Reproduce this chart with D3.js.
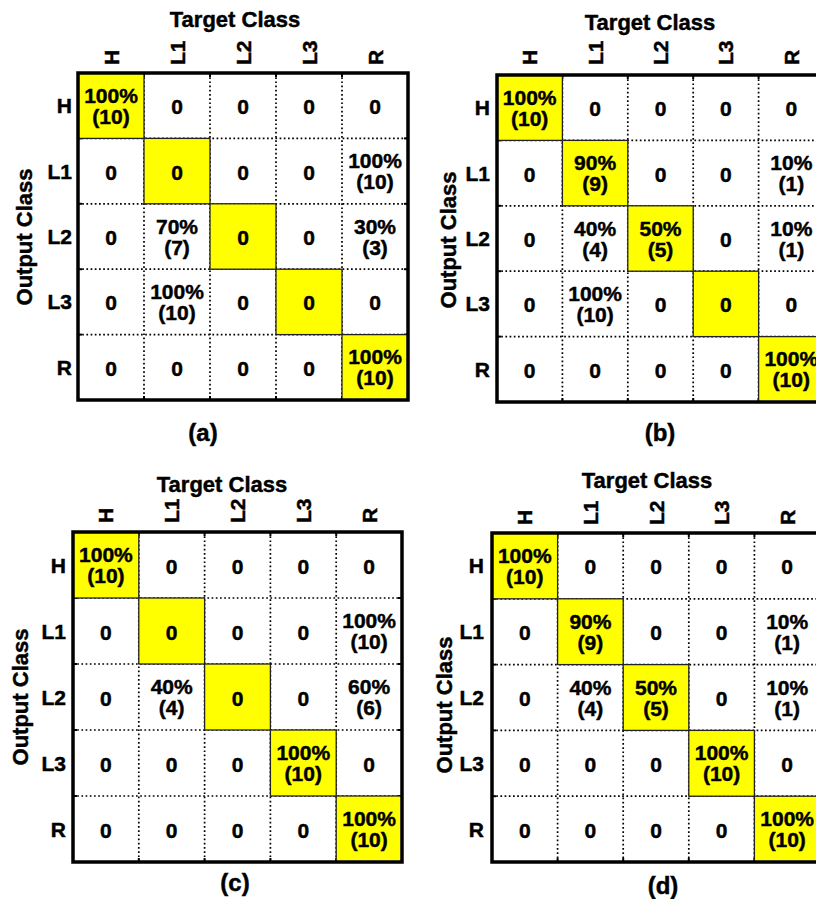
<!DOCTYPE html>
<html><head><meta charset="utf-8">
<script src="https://cdn.jsdelivr.net/npm/d3@7"></script>
<style>
html,body{margin:0;padding:0;background:#fff;}
svg{display:block;}
text{font-family:Arial,"Liberation Sans",sans-serif;font-weight:bold;fill:#000;stroke:#000;stroke-width:0.45px;}
</style></head>
<body>
<script>
// ---- data ----
const classes = ["H", "L1", "L2", "L3", "R"];
const panelLabels = ["(a)", "(b)", "(c)", "(d)"];
const xTitle = "Target Class";
const yTitle = "Output Class";
// rows = output class, columns = target class (counts)
const countsA = [[10,0,0,0,0],[0,0,0,0,10],[0,7,0,0,3],[0,10,0,0,0],[0,0,0,0,10]];
const countsB = [[10,0,0,0,0],[0,9,0,0,1],[0,4,5,0,1],[0,10,0,0,0],[0,0,0,0,10]];
const countsC = [[10,0,0,0,0],[0,0,0,0,10],[0,4,0,0,6],[0,0,0,10,0],[0,0,0,0,10]];
const countsD = [[10,0,0,0,0],[0,9,0,0,1],[0,4,5,0,1],[0,0,0,10,0],[0,0,0,0,10]];

// ---- layout ----
const W = 816, H = 899;
const svg = d3.select("body").append("svg").attr("width", W).attr("height", H);

const panels = [
  {counts: countsA, label: panelLabels[0], x0: 78, y0: 73, x1: 408, y1: 400, titleX: 235, titleY: 27, tickY: 65, rowX: 72, yTitleX: 32, yTitleY: 237, labX: 203, labY: 441},
  {counts: countsB, label: panelLabels[1], x0: 497, y0: 75, x1: 824, y1: 402, titleX: 650, titleY: 30, tickY: 65, rowX: 490, yTitleX: 456, yTitleY: 240, labX: 660, labY: 441},
  {counts: countsC, label: panelLabels[2], x0: 73, y0: 532, x1: 402, y1: 862, titleX: 222, titleY: 492, tickY: 523, rowX: 66, yTitleX: 28, yTitleY: 697, labX: 235, labY: 891},
  {counts: countsD, label: panelLabels[3], x0: 492, y0: 533, x1: 820, y1: 862, titleX: 647, titleY: 488, tickY: 525, rowX: 484, yTitleX: 452, yTitleY: 705, labX: 663, labY: 894}
];

panels.forEach(p => {
  const g = svg.append("g");
  const x = d3.scaleBand().domain(classes).range([p.x0, p.x1]);
  const y = d3.scaleBand().domain(classes).range([p.y0, p.y1]);
  const cells = [];
  p.counts.forEach((row, ri) => {
    const total = d3.sum(row);
    row.forEach((v, ci) => cells.push({r: classes[ri], c: classes[ci], v, pct: total ? Math.round(v / total * 100) : 0, diag: ri === ci}));
  });

  g.append("rect").attr("x", p.x0).attr("y", p.y0).attr("width", p.x1 - p.x0).attr("height", p.y1 - p.y0).attr("fill", "#fff");

  // dotted grid
  const inner = classes.slice(1);
  g.selectAll(".vg").data(inner).join("line")
    .attr("x1", d => x(d)).attr("x2", d => x(d)).attr("y1", p.y0).attr("y2", p.y1)
    .attr("stroke", "#000").attr("stroke-width", 1.7).attr("stroke-dasharray", "1.7 2.5");
  g.selectAll(".hg").data(inner).join("line")
    .attr("y1", d => y(d)).attr("y2", d => y(d)).attr("x1", p.x0).attr("x2", p.x1)
    .attr("stroke", "#000").attr("stroke-width", 1.7).attr("stroke-dasharray", "1.7 2.5");
  inner.forEach(d => {
    [[x(d), p.y0, x(d), p.y0 + 4], [x(d), p.y1, x(d), p.y1 - 4], [p.x0, y(d), p.x0 + 4, y(d)], [p.x1, y(d), p.x1 - 4, y(d)]].forEach(s =>
      g.append("line").attr("x1", s[0]).attr("y1", s[1]).attr("x2", s[2]).attr("y2", s[3]).attr("stroke", "#000").attr("stroke-width", 2));
  });

  // diagonal yellow cells
  g.selectAll(".dc").data(cells.filter(d => d.diag)).join("rect")
    .attr("x", d => x(d.c)).attr("y", d => y(d.r))
    .attr("width", x.bandwidth()).attr("height", y.bandwidth())
    .attr("fill", "#ffff00").attr("stroke", "#222").attr("stroke-width", 1.3);

  // cell text
  const fs = 21;
  cells.forEach(d => {
    const cx = x(d.c) + x.bandwidth() / 2, cy = y(d.r) + y.bandwidth() / 2;
    if (d.v === 0) {
      g.append("text").attr("x", cx).attr("y", cy + 8.5).attr("text-anchor", "middle").attr("font-size", fs).text("0");
    } else {
      g.append("text").attr("x", cx).attr("y", cy - 3).attr("text-anchor", "middle").attr("font-size", fs).text(d.pct + "%");
      g.append("text").attr("x", cx).attr("y", cy + 18).attr("text-anchor", "middle").attr("font-size", fs).text("(" + d.v + ")");
    }
  });

  // thick border
  g.append("rect").attr("x", p.x0).attr("y", p.y0).attr("width", p.x1 - p.x0).attr("height", p.y1 - p.y0)
    .attr("fill", "none").attr("stroke", "#000").attr("stroke-width", 3.5);

  // column tick labels (rotated)
  g.selectAll(".ct").data(classes).join("text")
    .attr("transform", d => `translate(${x(d) + x.bandwidth() / 2 + 7.5},${p.tickY}) rotate(-90)`)
    .attr("text-anchor", "start").attr("font-size", 21).text(d => d);
  // row tick labels
  g.selectAll(".rt").data(classes).join("text")
    .attr("x", p.rowX).attr("y", d => y(d) + y.bandwidth() / 2 + 7.5)
    .attr("text-anchor", "end").attr("font-size", 21).text(d => d);

  // titles
  g.append("text").attr("x", p.titleX).attr("y", p.titleY)
    .attr("text-anchor", "middle").attr("font-size", 22).text(xTitle);
  g.append("text").attr("transform", `translate(${p.yTitleX},${p.yTitleY}) rotate(-90)`)
    .attr("text-anchor", "middle").attr("font-size", 22).text(yTitle);
  g.append("text").attr("x", p.labX).attr("y", p.labY).attr("text-anchor", "middle").attr("font-size", 24).text(p.label);
});
</script>
</body></html>
